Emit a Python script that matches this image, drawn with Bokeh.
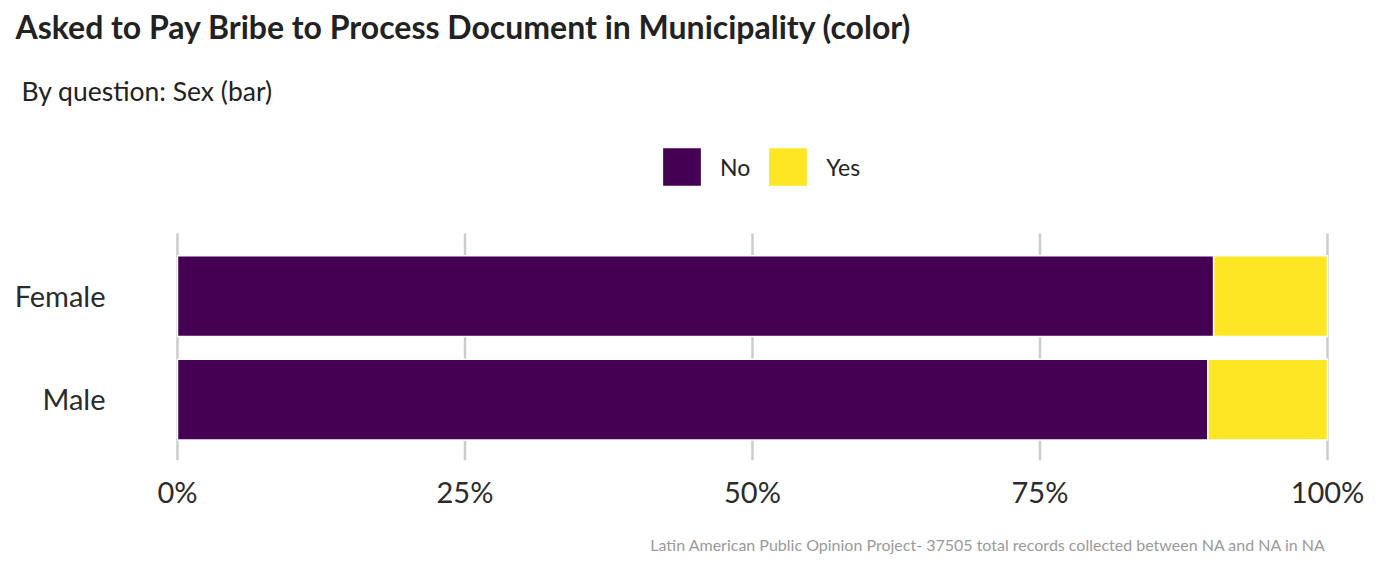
from bokeh.plotting import figure
from bokeh.models import (Range1d, FixedTicker, NumeralTickFormatter, Label, Legend,
                          LegendItem, ColumnDataSource, Title)
from bokeh.core.properties import value
from bokeh.embed import file_html
from bokeh.resources import INLINE

# ---- data ----
categories = ["Female", "Male"]
no_share = [0.901, 0.896]
yes_share = [0.099, 0.104]
responses = ["No", "Yes"]
colors = ["#440154", "#FDE725"]
x_ticks = [0, 0.25, 0.5, 0.75, 1.0]

title_text = "Asked to Pay Bribe to Process Document in Municipality (color)"
subtitle_text = "By question: Sex (bar)"
caption_text = "Latin American Public Opinion Project- 37505 total records collected between NA and NA in  NA"

FONT = "Lato"
W, H = 1390, 576
FRAME_H = 460          # frame spans from canvas top down to the bar area bottom
Y_LO, Y_HI = -0.589, 3.855
GRID_TOP = 1.604       # top end of the vertical grid lines (data units)

ypos = [len(categories) - 1 - i for i in range(len(categories))]
src = ColumnDataSource(dict(y=ypos, cat=categories, No=no_share, Yes=yes_share))

p = figure(width=W, height=H, output_backend="svg", toolbar_location=None,
           x_range=Range1d(-0.153913, 1.054783), y_range=Range1d(Y_LO, Y_HI),
           min_border_left=0, min_border_right=0, min_border_top=0,
           min_border_bottom=H - FRAME_H, title=None)
p.outline_line_color = None
p.background_fill_color = "white"
p.border_fill_color = "white"
p.yaxis.visible = False
p.xgrid.grid_line_color = None
p.ygrid.grid_line_color = None

# vertical grid lines at the tick positions, only across the bar area
p.segment(x0=x_ticks, x1=x_ticks, y0=[Y_LO] * len(x_ticks), y1=[GRID_TOP] * len(x_ticks),
          line_color="#cccccc", line_width=2.5)

rs = p.hbar_stack(responses, y="y", height=0.78, color=colors, source=src,
                  line_color="white", line_width=1.5)

# category labels
p.text(x=0, y="y", text="cat", source=src, x_offset=-72, y_offset=-1,
       text_align="right", text_baseline="alphabetic",
       text_font=value(FONT), text_font_size="29px", text_color="#2b2b2b")

# x axis
p.xaxis.ticker = FixedTicker(ticks=x_ticks)
p.xaxis.formatter = NumeralTickFormatter(format="0%")
p.xaxis.axis_line_color = None
p.xaxis.major_tick_line_color = None
p.xaxis.minor_tick_line_color = None
p.xaxis.major_label_text_font = FONT
p.xaxis.major_label_text_font_size = "29px"
p.xaxis.major_label_text_color = "#2b2b2b"
p.xaxis.major_label_standoff = 7

# legend
legend = Legend(items=[LegendItem(label=r, renderers=[rr]) for r, rr in zip(responses, rs)],
                orientation="horizontal", location=(657, FRAME_H - 191),
                glyph_width=49, glyph_height=49, label_standoff=14, spacing=13,
                padding=0, margin=0, border_line_color=None, background_fill_alpha=0,
                label_text_font=FONT, label_text_font_size="23px", label_text_color="#222222",
                label_height=49)
p.add_layout(legend, "center")

# titles
p.add_layout(Label(x=15, y=FRAME_H - 25.5, x_units="screen", y_units="screen",
                   text=title_text, text_font=FONT, text_font_size="32px",
                   text_font_style="bold", text_color="#222222",
                   text_align="left", text_baseline="alphabetic"))
p.add_layout(Label(x=21, y=FRAME_H - 90, x_units="screen", y_units="screen",
                   text=subtitle_text, text_font=FONT, text_font_size="26.5px",
                   text_color="#222222", text_align="left", text_baseline="alphabetic"))

# caption
p.add_layout(Title(text=caption_text, text_font=FONT, text_font_size="16px",
                   text_font_style="normal", text_color="#9a9a9a", align="right",
                   offset=W - 1326 - 4, standoff=43), "below")

open("out.html", "w").write(file_html(p, INLINE))
